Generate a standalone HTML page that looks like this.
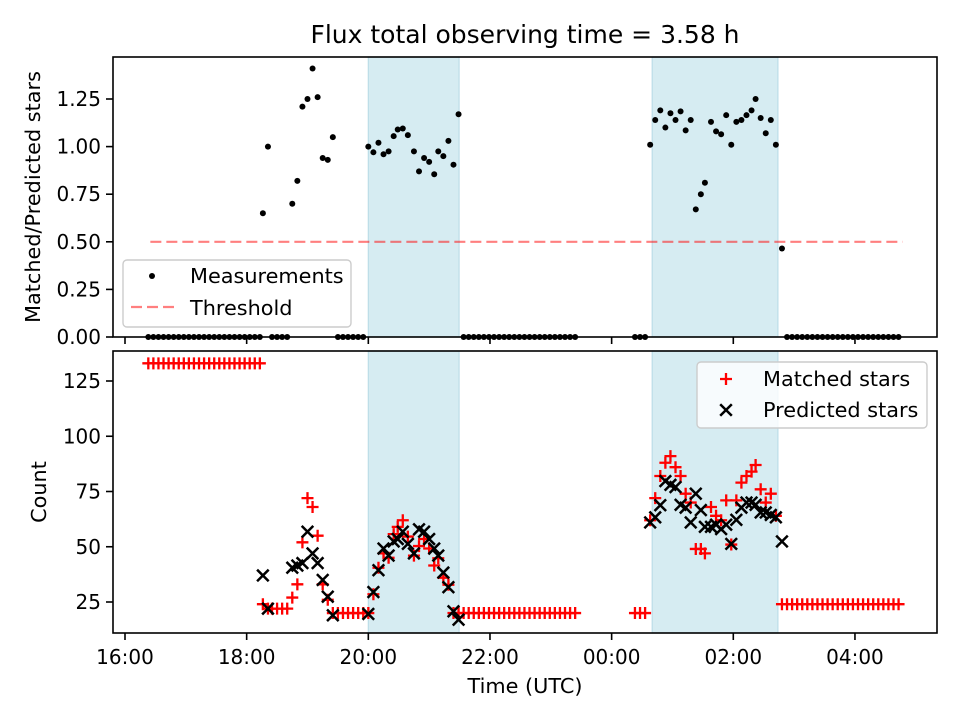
<!DOCTYPE html>
<html><head><meta charset="utf-8"><style>
html,body{margin:0;padding:0;background:#fff;}
svg{display:block;font-family:"DejaVu Sans","Liberation Sans",sans-serif;}
</style></head><body>
<svg id="fig" width="960" height="720" viewBox="0 0 960 720" xmlns="http://www.w3.org/2000/svg">
<rect x="0" y="0" width="960" height="720" fill="#fff"/>
<text x="525" y="43" font-size="25" text-anchor="middle" fill="#000">Flux total observing time = 3.58 h</text>
<g id="topPanel"></g>
<g id="botPanel"></g>
<text transform="translate(40,197) rotate(-90)" font-size="20.8" text-anchor="middle">Matched/Predicted stars</text>
<text transform="translate(46,492) rotate(-90)" font-size="20.8" text-anchor="middle">Count</text>
<text x="525" y="693" font-size="20.8" text-anchor="middle">Time (UTC)</text>
</svg>
<script>
// times in minutes since 16:00
const segA=[23,28,33,38,43,48,53,58,63,68,73,78,83,88,93,98,103,108,113,118,123,128,133];
const segB=[145,150,155,160];
const segC=[210,215,220,225,230,235];
const segD=[334,339,344,349,354,359,364,369,374,379,384,389,394,399,404,409,414,419,424,429,434,439,444];
const segE=[503,508,513];
const segF=[653,658,663,668,673,678,683,688,693,698,703,708,713,718,723,728,733,738,743,748,753,758,763];
const earlyT=[136,141];
const riseT=[165,170,175,180,185,190,195,200,205];
const win1T=[240,245,250,255,260,265,269,274,279,285,290,295,300,305,309,314,319,324,329];
const win2T=[518,523,528,533,538,543,548,553,558,563,568,572,578,583,588,593,598,603,608,613,618,622,627,632,637,642,648];

const segAMatched=[133,133,133,133,133,133,133,133,133,133,133,133,133,133,133,133,133,133,133,133,133,133,133];
const segBMatched=[22,22,22,22];
const segCMatched=[20,20,20,20,20,20];
const segDMatched=[20,20,20,20,20,20,20,20,20,20,20,20,20,20,20,20,20,20,20,20,20,20,20];
const segEMatched=[20,20,20];
const segFMatched=[24,24,24,24,24,24,24,24,24,24,24,24,24,24,24,24,24,24,24,24,24,24,24];
const earlyMatched=[24,22];
const riseMatched=[27,33,52,72,68,55,33,26,20];
const win1Matched=[20,28.5,40.5,47,45,55.7,59,62,54.6,46,50.3,53.5,49.2,41.5,44.8,36,32.8,20,20];
const win2Matched=[62,72,82,88,91,86,82,74,70,49,49,47,68,64,62,71,51,71,79,82,84,87,76,70,74,64,24];

const earlyPredicted=[37,22];
const risePredicted=[40.5,41.5,42.6,56.8,47,42.6,35,27.4,19];
const win1Predicted=[19.6,29.5,39.4,49.2,46,52.4,53.5,56.8,51.3,47,57.9,56.8,53.5,49.2,46,38.3,31.7,20.8,17];
const win2Predicted=[61,63.3,68.8,79.7,78,77,69,67.7,61,74,66.6,59,59,60,58,60,51.3,62.2,67.7,70,70,69,65.5,65.5,64.4,63.3,52.4];

const earlyRatio=[0.65,1.00];
const riseRatio=[0.70,0.82,1.21,1.25,1.41,1.26,0.94,0.93,1.05];
const win1Ratio=[1.00,0.97,1.02,0.96,0.975,1.055,1.09,1.095,1.06,0.975,0.87,0.94,0.92,0.855,0.975,0.95,1.03,0.905,1.17];
const win2Ratio=[1.01,1.14,1.19,1.10,1.175,1.14,1.185,1.085,1.14,0.67,0.75,0.81,1.13,1.08,1.065,1.165,1.01,1.13,1.14,1.165,1.19,1.25,1.15,1.07,1.14,1.01,0.465];
const zeroTimes=[segA,segB,segC,segD,segE,segF];

const windowStart=[240,520];
const windowEnd=[329.5,644];
const thresholdValue=0.5;
const thresholdStart=25, thresholdEnd=767;
const xTickMinutes=[0,120,240,360,480,600,720];
const xTickLabels=["16:00","18:00","20:00","22:00","00:00","02:00","04:00"];
const topTicks=[0,0.25,0.5,0.75,1.0,1.25];
const topTickLabels=["0.00","0.25","0.50","0.75","1.00","1.25"];
const botTicks=[25,50,75,100,125];
const botTickLabels=["25","50","75","100","125"];

const NS="http://www.w3.org/2000/svg";
const L=113,R=937,TT=57,TB=337,BT=351,BB=633;
function xs(m){return 125+m*60.83/60;}
function yTop(v){return 337-v*190.4;}
function yBot(v){return 602-(v-25)*2.21;}
function mk(parent,tag,attrs){const e=document.createElementNS(NS,tag);for(const k in attrs)e.setAttribute(k,attrs[k]);parent.appendChild(e);return e;}
const topG=document.getElementById('topPanel'), botG=document.getElementById('botPanel');

[[topG,TT,TB],[botG,BT,BB]].forEach(([g,y0,y1])=>{
  for(let i=0;i<windowStart.length;i++){
    const r=mk(g,'rect',{x:xs(windowStart[i]),y:y0,width:xs(windowEnd[i])-xs(windowStart[i]),height:y1-y0,fill:'#d6ecf2',stroke:'#bcdde8','stroke-width':1.2});
    
    
  }
});

const th=mk(topG,'line',{x1:xs(thresholdStart),x2:xs(thresholdEnd),y1:yTop(thresholdValue),y2:yTop(thresholdValue),stroke:'rgba(255,0,0,0.5)','stroke-width':2.2,'stroke-dasharray':'11,5'});



function dot(t,v){const c=mk(topG,'circle',{cx:xs(t),cy:yTop(v),r:3,fill:'#000'});
  
  }
zeroTimes.forEach(s=>s.forEach(t=>dot(t,0)));
[[earlyT,earlyRatio],[riseT,riseRatio],[win1T,win1Ratio],[win2T,win2Ratio]].forEach(([ts,vs])=>ts.forEach((t,i)=>dot(t,vs[i])));

function plus(t,v){const x=xs(t),y=yBot(v),s=6;
  const p=mk(botG,'path',{d:`M${x-s},${y}H${x+s}M${x},${y-s}V${y+s}`,stroke:'#f00','stroke-width':2.3,fill:'none'});
  
  }
function cross(t,v){const x=xs(t),y=yBot(v),s=5.8;
  const p=mk(botG,'path',{d:`M${x-s},${y-s}L${x+s},${y+s}M${x-s},${y+s}L${x+s},${y-s}`,stroke:'#000','stroke-width':2.5,fill:'none'});
  
  }
[[segA,segAMatched],[earlyT,earlyMatched],[segB,segBMatched],[riseT,riseMatched],[segC,segCMatched],[win1T,win1Matched],[segD,segDMatched],[segE,segEMatched],[win2T,win2Matched],[segF,segFMatched]].forEach(([ts,vs])=>ts.forEach((t,i)=>plus(t,vs[i])));
[[earlyT,earlyPredicted],[riseT,risePredicted],[win1T,win1Predicted],[win2T,win2Predicted]].forEach(([ts,vs])=>ts.forEach((t,i)=>cross(t,vs[i])));

[[topG,TT,TB,topTicks,topTickLabels,yTop,false],[botG,BT,BB,botTicks,botTickLabels,yBot,true]].forEach(([g,y0,y1,tk,tl,ys,showX])=>{
  const f=mk(g,'rect',{x:L,y:y0,width:R-L,height:y1-y0,fill:'none',stroke:'#000','stroke-width':1.6});
  
  
  tk.forEach((v,i)=>{
    const y=ys(v);
    const l=mk(g,'line',{x1:L-7,x2:L,y1:y,y2:y,stroke:'#000','stroke-width':1.6});
    
    
    const t=mk(g,'text',{x:L-12,y:y+7,'font-size':20,'text-anchor':'end'});
    t.textContent=tl[i];
    
    
  });
  xTickMinutes.forEach((m,i)=>{
    const x=xs(m);
    const l=mk(g,'line',{x1:x,x2:x,y1:y1,y2:y1+7,stroke:'#000','stroke-width':1.6});
    
    
    if(showX){const t=mk(g,'text',{x:x,y:y1+31,'font-size':20,'text-anchor':'middle'});
      t.textContent=xTickLabels[i];
      
      }
  });
});

(function(){
  const g1=mk(topG,'g',{});
  
  
  mk(g1,'rect',{x:123,y:260,width:228,height:67,rx:4,fill:'rgba(255,255,255,0.8)',stroke:'#ccc','stroke-width':1.4});
  mk(g1,'circle',{cx:152,cy:276,r:3,fill:'#000'});
  const t1=mk(g1,'text',{x:190,y:283,'font-size':20.8});t1.textContent='Measurements';
  
  
  mk(g1,'line',{x1:131,x2:174,y1:307,y2:307,stroke:'rgba(255,0,0,0.5)','stroke-width':2.2,'stroke-dasharray':'11,5'});
  const t2=mk(g1,'text',{x:190,y:315,'font-size':20.8});t2.textContent='Threshold';
  
  

  const g2=mk(botG,'g',{});
  
  
  mk(g2,'rect',{x:697,y:362,width:230,height:66,rx:4,fill:'rgba(255,255,255,0.8)',stroke:'#ccc','stroke-width':1.4});
  mk(g2,'path',{d:'M720,379H732M726,373V385',stroke:'#f00','stroke-width':2.3,fill:'none'});
  const t3=mk(g2,'text',{x:763,y:386,'font-size':20.8});t3.textContent='Matched stars';
  
  
  mk(g2,'path',{d:'M720.2,404.2L731.8,415.8M720.2,415.8L731.8,404.2',stroke:'#000','stroke-width':2.5,fill:'none'});
  const t4=mk(g2,'text',{x:763,y:417,'font-size':20.8});t4.textContent='Predicted stars';
  
  
})();
</script>
</body></html>
